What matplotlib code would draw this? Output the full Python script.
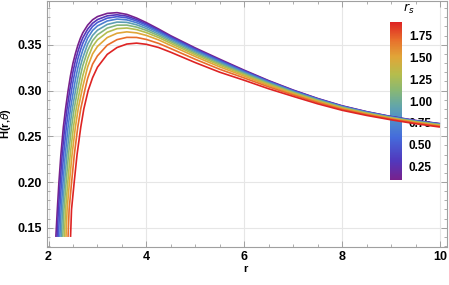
import matplotlib
matplotlib.use("Agg")
import matplotlib.pyplot as plt
import numpy as np
from matplotlib.colors import LinearSegmentedColormap, Normalize
from matplotlib.ticker import MultipleLocator, FormatStrFormatter

# r_s values of the ten curves
rs_values = [0.1, 0.3, 0.5, 0.7, 0.9, 1.1, 1.3, 1.5, 1.7, 1.9]

# rising branch: r where each curve crosses these H levels
rise_levels = [0.14, 0.17, 0.20, 0.23, 0.26, 0.28, 0.30]
rise_r = [
    [2.150, 2.180, 2.213, 2.253, 2.303, 2.348, 2.400],
    [2.174, 2.203, 2.238, 2.279, 2.331, 2.378, 2.433],
    [2.201, 2.229, 2.266, 2.309, 2.364, 2.412, 2.470],
    [2.231, 2.258, 2.297, 2.342, 2.399, 2.449, 2.511],
    [2.261, 2.287, 2.328, 2.375, 2.435, 2.486, 2.552],
    [2.291, 2.316, 2.360, 2.408, 2.470, 2.524, 2.593],
    [2.324, 2.348, 2.394, 2.444, 2.509, 2.565, 2.638],
    [2.357, 2.380, 2.428, 2.481, 2.549, 2.606, 2.683],
    [2.399, 2.421, 2.472, 2.527, 2.598, 2.658, 2.740],
    [2.450, 2.470, 2.525, 2.583, 2.659, 2.722, 2.810],
]

# upper branch: H at fixed r (None where the curve is still on the rising branch)
r_grid = [2.45, 2.5, 2.55, 2.6, 2.65, 2.7, 2.8, 2.9, 3.0, 3.2, 3.4, 3.6, 3.8,
          4.0, 4.25, 4.5, 5.0, 5.5, 6.0, 6.5, 7.0, 7.5, 8.0, 8.5, 9.0, 9.5, 10.0]
N = None
h_upper = [
    [.3165, .3300, .3405, .3495, .3570, .3630, .3715, .3773, .3808, .3843, .3851, .3832, .3792,
     .3742, .3672, .3598, .3465, .3342, .3222, .3108, .3005, .2913, .2833, .2769, .2716, .2673, .2638],
    [.3055, .3206, .3328, .3426, .3509, .3576, .3671, .3735, .3775, .3816, .3828, .3813, .3776,
     .3728, .3660, .3587, .3455, .3333, .3215, .3103, .3001, .2910, .2830, .2767, .2714, .2671, .2636],
    [N, .3095, .3235, .3347, .3438, .3516, .3626, .3700, .3744, .3791, .3807, .3795, .3760,
     .3715, .3649, .3577, .3447, .3326, .3209, .3098, .2997, .2907, .2827, .2765, .2712, .2669, .2634],
    [N, N, .3120, .3251, .3354, .3441, .3573, .3656, .3706, .3760, .3781, .3772, .3741,
     .3698, .3635, .3565, .3435, .3316, .3202, .3092, .2992, .2903, .2824, .2762, .2709, .2666, .2631],
    [N, N, N, .3141, .3264, .3358, .3507, .3602, .3659, .3722, .3748, .3745, .3718,
     .3678, .3617, .3549, .3422, .3304, .3192, .3084, .2986, .2898, .2820, .2758, .2706, .2663, .2628],
    [N, N, N, .3020, .3158, .3271, .3435, .3545, .3609, .3682, .3714, .3715, .3693,
     .3657, .3599, .3533, .3407, .3291, .3182, .3076, .2980, .2893, .2815, .2754, .2703, .2660, .2625],
    [N, N, N, N, .3033, .3162, .3350, .3482, .3554, .3637, .3676, .3683, .3666,
     .3633, .3579, .3515, .3391, .3277, .3171, .3067, .2973, .2887, .2810, .2750, .2699, .2656, .2621],
    [N, N, N, N, N, .3043, .3259, .3400, .3482, .3579, .3626, .3641, .3630,
     .3602, .3553, .3492, .3371, .3258, .3157, .3056, .2964, .2879, .2804, .2745, .2695, .2652, .2616],
    [N, N, N, N, N, N, .3134, .3288, .3379, .3496, .3556, .3581, .3580,
     .3558, .3515, .3458, .3341, .3232, .3137, .3040, .2952, .2869, .2795, .2737, .2688, .2645, .2609],
    [N, N, N, N, N, N, N, .3140, .3255, .3395, .3470, .3508, .3518,
     .3505, .3470, .3418, .3305, .3200, .3112, .3019, .2936, .2855, .2784, .2728, .2680, .2637, .2601],
]

cbar_ticks = [0.25, 0.50, 0.75, 1.00, 1.25, 1.50, 1.75]

# Mathematica-like "Rainbow" gradient
rainbow = LinearSegmentedColormap.from_list("mma_rainbow", [
    (0.00, (0.47, 0.13, 0.55)),
    (0.12, (0.32, 0.22, 0.74)),
    (0.27, (0.27, 0.42, 0.86)),
    (0.40, (0.32, 0.58, 0.78)),
    (0.48, (0.40, 0.66, 0.64)),
    (0.57, (0.54, 0.72, 0.45)),
    (0.67, (0.71, 0.74, 0.30)),
    (0.78, (0.88, 0.65, 0.22)),
    (0.89, (0.91, 0.43, 0.17)),
    (1.00, (0.87, 0.14, 0.14)),
])
norm = Normalize(vmin=0.1, vmax=1.9)

plt.rcParams['font.family'] = ['Liberation Sans', 'DejaVu Sans']
plt.rcParams['mathtext.fontset'] = 'dejavusans'

xlim = (1.959, 10.143)
ylim = (0.129, 0.3983)
pos = [0.1036, 0.1333, 0.8919, 0.8647]

fig = plt.figure(figsize=(4.49, 2.85), dpi=100)

# frame, ticks and grid
ax = fig.add_axes(pos, zorder=0)
ax.set_xlim(*xlim)
ax.set_ylim(*ylim)
ax.xaxis.set_major_locator(MultipleLocator(2))
ax.xaxis.set_minor_locator(MultipleLocator(0.5))
ax.yaxis.set_major_locator(MultipleLocator(0.05))
ax.yaxis.set_minor_locator(MultipleLocator(0.01))
ax.yaxis.set_major_formatter(FormatStrFormatter('%.2f'))
ax.grid(True, which='major', color='#e6e6e6', lw=0.8, zorder=0)
for s in ax.spines.values():
    s.set_color('#a0a0a0')
    s.set_linewidth(0.8)
ax.tick_params(which='both', direction='in', top=True, right=True, color='#a0a0a0')
ax.tick_params(which='major', length=4, width=0.7, labelsize=9, pad=3)
ax.tick_params(which='minor', length=2, width=0.6)
for lab in ax.get_xticklabels() + ax.get_yticklabels():
    lab.set_fontweight('bold')
ax.set_xlabel('r', fontsize=8, fontweight='bold')
ax.set_ylabel(r'H(r,$\theta$)', fontsize=8, fontweight='bold')
ax.xaxis.set_label_coords(0.497, -0.07)
ax.yaxis.set_label_coords(-0.083, 0.5)

# colour bar (under the curves)
cax = fig.add_axes([0.8686, 0.3684, 0.0267, 0.554], zorder=1)
sm = plt.cm.ScalarMappable(norm=norm, cmap=rainbow)
cb = fig.colorbar(sm, cax=cax, ticks=cbar_ticks)
cb.outline.set_visible(False)
cax.tick_params(length=0, labelsize=8.5, pad=5)
cax.set_yticklabels(['%.2f' % t for t in cbar_ticks], fontweight='bold')
cax.text(1.1, 1.04, r'$r_s$', transform=cax.transAxes, fontsize=9,
         ha='left', va='bottom')

# curves on top
lax = fig.add_axes(pos, zorder=2)
lax.patch.set_alpha(0)
lax.set_axis_off()
for k, rs in enumerate(rs_values):
    xs = list(rise_r[k])
    ys = list(rise_levels)
    for r, h in zip(r_grid, h_upper[k]):
        if h is not None:
            xs.append(r)
            ys.append(h)
    lax.plot(xs, ys, color=rainbow(norm(rs)), lw=1.2, solid_capstyle='butt')
lax.set_xlim(*xlim)
lax.set_ylim(*ylim)

fig.savefig('out.png', dpi=100)
